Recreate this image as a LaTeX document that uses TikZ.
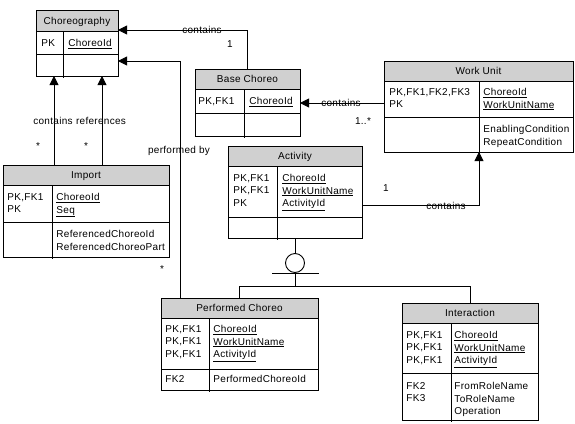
\documentclass[tikz,border=0pt]{standalone}
\usepackage{fontspec}
\setmainfont{Liberation Sans}[LetterSpace=3.0]
\usetikzlibrary{arrows.meta}
\definecolor{hdrgray}{RGB}{208,208,208}
\tikzset{
  entity/.style={draw,inner sep=0pt,outer sep=0pt},
  enttitle/.style={inner sep=0pt,text height=7pt,text depth=0pt},
  field/.style={anchor=north west,inner sep=0pt,align=left},
  lbl/.style={inner sep=0pt,text height=7pt,text depth=0pt},
  rel/.style={-{Triangle[length=9pt,width=9pt]}}
}
% name, left, top, right, bottom, header line, row line, divider, title
\newcommand{\entitybox}[9]{%
  \fill[hdrgray] (#2,#3) rectangle (#4,#6);
  \node[entity,anchor=north west,minimum width={(#4-#2)*1pt},
        minimum height={(#5-#3)*1pt}] (#1) at (#2,#3) {};
  \draw (#2,#6) -- (#4,#6) (#2,#7) -- (#4,#7) (#8,#6) -- (#8,#5+2);
  \node[enttitle] (#1-t) at ({(#2+#4)/2},{(#3+#6)/2}) {#9};
}

\begin{document}
\begin{tikzpicture}[x=1pt,y=-1pt,line width=0.9pt,
                    font=\fontsize{10}{12.5}\selectfont]
     \useasboundingbox (0,0) rectangle (575,423);
     \entitybox{chor}{36}{10}{118}{76}{31}{54}{63}{Choreography}
     \entitybox{base}{195}{69}{300}{136}{89}{113}{244}{Base Choreo}
     \entitybox{work}{384}{61}{573}{152}{81}{117}{479}{Work Unit}
     \entitybox{act}{228}{146}{362}{238}{166}{217}{277}{Activity}
     \entitybox{imp}{3}{165}{169}{257}{185}{222}{52}{Import}
     \entitybox{perf}{161}{298}{318}{390}{318}{369}{209}{Performed Choreo}
     \entitybox{inter}{402}{303}{538}{420}{323}{373}{451}{Interaction}
     % keys and attributes
     \node[field] (chor-k) at (41,39) {PK};
     \node[field] (chor-a) at (68,39) {\underline{ChoreoId}};
     \node[field] (base-k) at (198,97) {PK,FK1};
     \node[field] (base-a) at (249,97) {\underline{ChoreoId}};
     \node[field] (work-k) at (389,88) {PK,FK1,FK2,FK3\\PK};
     \node[field] (work-a) at (483,88) {\underline{ChoreoId}\\\underline{WorkUnitName}};
     \node[field] (work-b) at (483,125) {EnablingCondition\\RepeatCondition};
     \node[field] (act-k) at (233,174) {PK,FK1\\PK,FK1\\PK};
     \node[field] (act-a) at (282,174)
      {\underline{ChoreoId}\\\underline{WorkUnitName}\\\underline{ActivityId}};
     \node[field] (imp-k) at (7,193) {PK,FK1\\PK};
     \node[field] (imp-a) at (56,193) {\underline{ChoreoId}\\\underline{Seq}};
     \node[field] (imp-b) at (56,230) {ReferencedChoreoId\\ReferencedChoreoPart};
     \node[field] (perf-k) at (165,325) {PK,FK1\\PK,FK1\\PK,FK1};
     \node[field] (perf-a) at (213,325)
      {\underline{ChoreoId}\\\underline{WorkUnitName}\\\underline{ActivityId}};
     \node[field] (perf-c) at (165,375) {FK2};
     \node[field] (perf-b) at (213,375) {PerformedChoreoId};
     \node[field] (inter-k) at (406,331) {PK,FK1\\PK,FK1\\PK,FK1};
     \node[field] (inter-a) at (454,331)
      {\underline{ChoreoId}\\\underline{WorkUnitName}\\\underline{ActivityId}};
     \node[field] (inter-c) at (406,382) {FK2\\FK3};
     \node[field] (inter-b) at (454,382) {FromRoleName\\ToRoleName\\Operation};
     % relationships
     \draw[rel] (base.north) |- ([yshift=-20pt]chor.north east);
     \draw[rel] ([xshift=19pt]perf.north west) |- ([yshift=-51pt]chor.north east);
     \draw[rel] ([xshift=51pt]imp.north west) -- ([xshift=18pt]chor.south west);
     \draw[rel] ([xshift=99pt]imp.north west) -- ([xshift=66pt]chor.south west);
     \draw[rel] ([yshift=-42pt]work.north west) -- ([yshift=-34pt]base.north east);
     \draw[rel] ([yshift=-59pt]act.north east) -| ([xshift=95pt]work.south west);
     % subtypes of activity
     \node[draw,circle,inner sep=0pt,minimum size=19pt] (cat) at (295,263) {};
     \draw (act.south) -- (cat.north);
     \draw ([xshift=-23pt]cat.south) -- ([xshift=24pt]cat.south);
     \draw (cat.south) -- ++(0,13) coordinate (fork);
     \draw (perf.north) |- (fork) -| (inter.north);
     % labels
     \node[lbl] (l-cont1) at (202,30) {contains};
     \node[lbl] (l-one1) at (230,44) {1};
     \node[lbl] (l-cont2) at (53,121) {contains};
     \node[lbl] (l-refs) at (101,121) {references};
     \node[lbl] (l-st1) at (38,146) {*};
     \node[lbl] (l-st2) at (86,146) {*};
     \node[lbl] (l-perf) at (179,150) {performed by};
     \node[lbl] (l-st3) at (162,269) {*};
     \node[lbl] (l-cont3) at (341,103) {contains};
     \node[lbl] (l-many) at (363,121) {1..*};
     \node[lbl] (l-one2) at (386,188) {1};
     \node[lbl] (l-cont4) at (446,206) {contains};
    \end{tikzpicture}
\end{document}
